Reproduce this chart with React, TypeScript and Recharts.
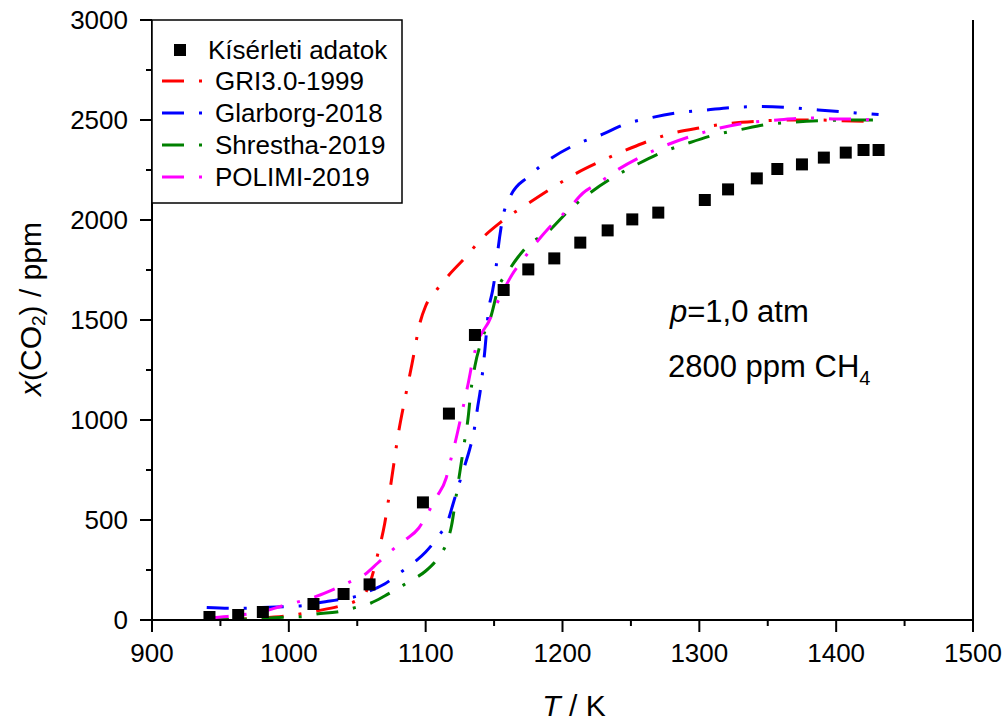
import React from 'react';
import { ComposedChart, Line, Scatter, XAxis, YAxis, Label } from 'recharts';

// experimental points (Kísérleti adatok)
const expT = [942, 963, 981, 1018, 1040, 1059, 1098, 1117, 1136, 1157, 1175, 1194, 1213, 1233, 1251, 1270, 1304, 1321, 1342, 1357, 1375, 1391, 1407, 1420, 1431];
const expX = [15, 25, 40, 80, 130, 178, 588, 1032, 1425, 1650, 1753, 1808, 1887, 1948, 2003, 2037, 2100, 2153, 2208, 2255, 2278, 2312, 2337, 2350, 2350];

// GRI3.0-1999
const griT = [940, 960, 980, 1000, 1020, 1040, 1050, 1056, 1060, 1065, 1070, 1075, 1080, 1085, 1090, 1096, 1100, 1108, 1117, 1130, 1140, 1155, 1175, 1190, 1210, 1230, 1250, 1280, 1300, 1322, 1345, 1366, 1385, 1403, 1431];
const griX = [2, 4, 10, 22, 45, 75, 100, 135, 200, 330, 480, 700, 930, 1110, 1280, 1490, 1570, 1650, 1725, 1820, 1900, 1990, 2083, 2150, 2233, 2300, 2360, 2433, 2460, 2483, 2495, 2500, 2500, 2497, 2492];

// Glarborg-2018
const glaT = [940, 960, 980, 1000, 1010, 1020, 1030, 1040, 1050, 1060, 1070, 1080, 1090, 1100, 1110, 1116, 1120, 1124, 1128, 1132, 1135, 1138, 1140, 1143, 1146, 1149, 1151, 1153, 1156, 1162, 1175, 1190, 1209, 1228, 1246, 1265, 1285, 1305, 1325, 1345, 1364, 1384, 1404, 1431];
const glaX = [62, 58, 62, 68, 72, 85, 95, 105, 120, 148, 180, 230, 280, 340, 425, 490, 580, 672, 760, 850, 933, 1065, 1150, 1330, 1550, 1650, 1737, 1860, 2000, 2120, 2217, 2300, 2375, 2425, 2480, 2512, 2537, 2550, 2563, 2567, 2563, 2552, 2541, 2527];

// Shrestha-2019
const shrT = [940, 960, 980, 1000, 1010, 1020, 1035, 1050, 1060, 1070, 1080, 1090, 1100, 1110, 1115, 1119, 1122, 1125, 1128, 1131, 1133, 1136, 1141, 1148, 1153, 1160, 1167, 1174, 1190, 1205, 1220, 1238, 1255, 1274, 1290, 1311, 1330, 1350, 1370, 1390, 1410, 1431];
const shrX = [2, 3, 8, 15, 17, 30, 40, 65, 85, 120, 160, 200, 245, 320, 380, 475, 608, 740, 875, 1010, 1142, 1270, 1400, 1525, 1658, 1740, 1810, 1867, 1945, 2050, 2135, 2217, 2280, 2342, 2380, 2425, 2452, 2478, 2490, 2497, 2500, 2500];

// POLIMI-2019
const polT = [940, 955, 970, 980, 995, 1010, 1020, 1035, 1045, 1055, 1065, 1075, 1085, 1095, 1102, 1108, 1115, 1118, 1122, 1127, 1131, 1135, 1140, 1146, 1151, 1157, 1163, 1170, 1180, 1190, 1205, 1215, 1226, 1240, 1260, 1278, 1297, 1315, 1336, 1357, 1382, 1400, 1415, 1431];
const polX = [10, 18, 30, 40, 70, 97, 118, 160, 192, 225, 285, 347, 400, 460, 540, 615, 710, 792, 900, 1053, 1180, 1317, 1420, 1490, 1567, 1650, 1725, 1792, 1880, 1960, 2060, 2135, 2183, 2250, 2325, 2380, 2425, 2460, 2487, 2500, 2510, 2505, 2505, 2495];

const xTicks = [900, 950, 1000, 1050, 1100, 1150, 1200, 1250, 1300, 1350, 1400, 1450, 1500];
const yTicks = [0, 250, 500, 750, 1000, 1250, 1500, 1750, 2000, 2250, 2500, 2750, 3000];

const toPoints = (ts: number[], xs: number[]) => ts.map((T, i) => ({ T, y: xs[i] }));

const FONT = 'Arial, "Liberation Sans", sans-serif';
const DASH = '22 15 3 15';

const series = [
  { name: 'GRI3.0-1999', color: '#ff0000', data: toPoints(griT, griX) },
  { name: 'Glarborg-2018', color: '#0000ff', data: toPoints(glaT, glaX) },
  { name: 'Shrestha-2019', color: '#008000', data: toPoints(shrT, shrX) },
  { name: 'POLIMI-2019', color: '#ff00ff', data: toPoints(polT, polX) },
];

const BottomTick = (props: any) => {
  const { x, y, payload } = props;
  const major = payload.value % 100 === 0;
  return (
    <g>
      <line x1={x} x2={x} y1={y} y2={y + (major ? 12 : 6)} stroke="#000" strokeWidth={2} />
      {major && (
        <text x={x} y={y + 42} textAnchor="middle" fontSize={26} fontFamily={FONT} fill="#000">
          {payload.value}
        </text>
      )}
    </g>
  );
};

const TopTick = (props: any) => {
  const { x, y, payload } = props;
  const major = payload.value % 100 === 0;
  return <line x1={x} x2={x} y1={y} y2={y - (major ? 12 : 6)} stroke="#000" strokeWidth={2} />;
};

const LeftTick = (props: any) => {
  const { x, y, payload } = props;
  const major = payload.value % 500 === 0;
  return (
    <g>
      <line x1={x - (major ? 12 : 6)} x2={x} y1={y} y2={y} stroke="#000" strokeWidth={2} />
      {major && (
        <text x={x - 24} y={y + 9} textAnchor="end" fontSize={26} fontFamily={FONT} fill="#000">
          {payload.value}
        </text>
      )}
    </g>
  );
};

const Square = (props: any) => {
  const { cx, cy } = props;
  return <rect x={cx - 6} y={cy - 6} width={12} height={12} fill="#000" />;
};

const XTitle = (props: any) => {
  const vb = props.viewBox;
  return (
    <text x={vb.x + 422} y={vb.y + 96} textAnchor="middle" fontSize={30} fontFamily={FONT} fill="#000">
      <tspan fontStyle="italic">T</tspan>
      <tspan> / K</tspan>
    </text>
  );
};

const YTitle = (props: any) => {
  const vb = props.viewBox;
  const cx = vb.x + 30;
  const cy = vb.y + 289;
  return (
    <text
      x={cx}
      y={cy}
      transform={`rotate(-90 ${cx} ${cy})`}
      textAnchor="middle"
      dominantBaseline="central"
      fontSize={30}
      fontFamily={FONT}
      fill="#000"
    >
      <tspan fontStyle="italic">x</tspan>
      <tspan>(CO</tspan>
      <tspan fontSize={19} dy={8}>2</tspan>
      <tspan dy={-8}>) / ppm</tspan>
    </text>
  );
};

const Overlay = () => {
  const rows = [81, 113, 145, 177];
  return (
    <svg width={1006} height={724} style={{ position: 'absolute', left: 0, top: 0, pointerEvents: 'none' }}>
      <rect x={152} y={20} width={250} height={183} fill="#fff" stroke="#000" strokeWidth={1.5} />
      <rect x={174} y={44} width={12} height={12} fill="#000" />
      <text x={208} y={59} fontSize={26} fontFamily={FONT} fill="#000">Kísérleti adatok</text>
      {series.map((s, i) => (
        <g key={s.name}>
          <line x1={162} x2={202} y1={rows[i]} y2={rows[i]} stroke={s.color} strokeWidth={3} strokeDasharray={DASH} />
          <text x={215} y={rows[i] + 9} fontSize={26} fontFamily={FONT} fill="#000">{s.name}</text>
        </g>
      ))}
      <text x={670} y={322} fontSize={31} fontFamily={FONT} fill="#000">
        <tspan fontStyle="italic">p</tspan>
        <tspan>=1,0 atm</tspan>
      </text>
      <text x={668} y={377} fontSize={31} fontFamily={FONT} fill="#000">
        <tspan>2800 ppm CH</tspan>
        <tspan fontSize={20} dy={8}>4</tspan>
      </text>
    </svg>
  );
};

export default function App() {
  return (
    <div style={{ position: 'absolute', left: 0, top: 0, width: 1006, height: 724, background: '#fff' }}>
      <ComposedChart width={1006} height={724} margin={{ top: 20, right: 0, bottom: 0, left: 0 }}>
        <XAxis
          xAxisId="b"
          type="number"
          dataKey="T"
          domain={[900, 1500]}
          ticks={xTicks}
          interval={0}
          allowDataOverflow
          height={104}
          tickSize={0}
          tickMargin={0}
          tickLine={false}
          tick={<BottomTick />}
          axisLine={{ stroke: '#000', strokeWidth: 2 }}
        >
          <Label content={<XTitle />} />
        </XAxis>
        <XAxis
          xAxisId="t"
          orientation="top"
          type="number"
          dataKey="T"
          domain={[900, 1500]}
          ticks={xTicks}
          interval={0}
          allowDataOverflow
          height={0}
          tickSize={0}
          tickMargin={0}
          tickLine={false}
          tick={<TopTick />}
          axisLine={{ stroke: '#000', strokeWidth: 2 }}
        />
        <YAxis
          yAxisId="l"
          type="number"
          domain={[0, 3000]}
          ticks={yTicks}
          interval={0}
          allowDataOverflow
          width={152}
          tickSize={0}
          tickMargin={0}
          tickLine={false}
          tick={<LeftTick />}
          axisLine={{ stroke: '#000', strokeWidth: 2 }}
        >
          <Label content={<YTitle />} />
        </YAxis>
        <YAxis
          yAxisId="r"
          orientation="right"
          type="number"
          domain={[0, 3000]}
          allowDataOverflow
          width={33}
          tick={false}
          tickLine={false}
          axisLine={{ stroke: '#000', strokeWidth: 2 }}
        />
        <Scatter
          name="Kísérleti adatok"
          xAxisId="b"
          yAxisId="l"
          data={toPoints(expT, expX)}
          dataKey="y"
          shape={<Square />}
          isAnimationActive={false}
        />
        {series.map((s) => (
          <Line
            key={s.name}
            name={s.name}
            xAxisId="b"
            yAxisId="l"
            data={s.data}
            dataKey="y"
            type="monotone"
            stroke={s.color}
            strokeWidth={3}
            strokeDasharray={DASH}
            dot={false}
            activeDot={false}
            isAnimationActive={false}
          />
        ))}
      </ComposedChart>
      <Overlay />
    </div>
  );
}
